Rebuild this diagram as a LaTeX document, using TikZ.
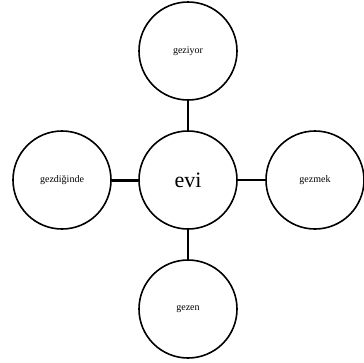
\documentclass[tikz,border=0pt]{standalone}
\usepackage{fontspec}
\setmainfont{Liberation Serif}
\begin{document}
\begin{tikzpicture}[x=1pt,y=-1pt,line join = round, line cap = round,
	word/.style={draw,circle,line width=1.6pt,minimum size=98pt,inner sep=0pt,font=\fontsize{10}{12}\selectfont},
	root/.style={word,font=\fontsize{22}{26}\selectfont},
	link/.style={line width=2pt}]
					\useasboundingbox (0,0) rectangle (364,362);
					\node[root] (evi) at (188,180) {evi};
					\node[word] (geziyor) at (188,51) {geziyor};
					\node[word] (gezen) at (188,309) {gezen};
					\node[word] (gezdiginde) at (62,180) {gezdiğinde};
					\node[word] (gezmek) at (315,180) {gezmek};
					\draw[link] (evi) -- (geziyor);
					\draw[link] (evi) -- (gezen);
					\draw[link,line width=3pt] (evi) -- (gezdiginde);
					\draw[link,line width=2.5pt] (evi) -- (gezmek);
				\end{tikzpicture}
\end{document}
